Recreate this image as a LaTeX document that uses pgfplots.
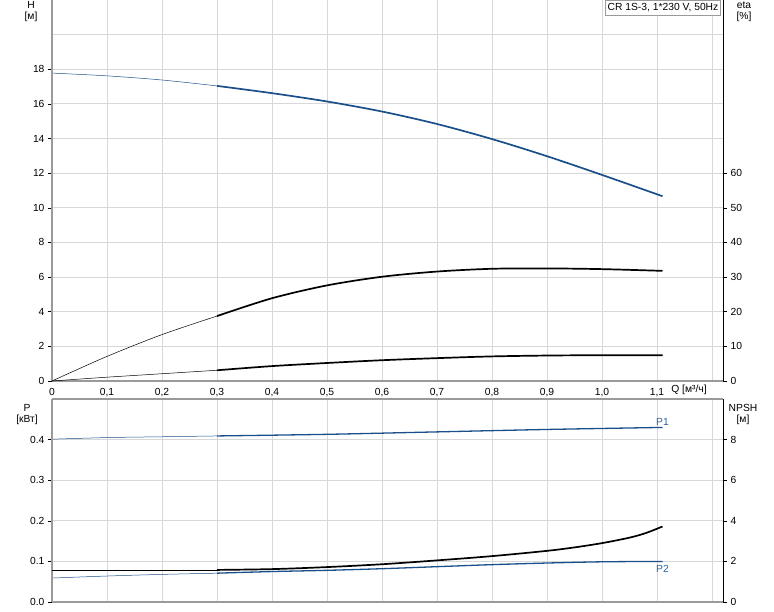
\documentclass[border=0pt]{standalone}
\usepackage{pgfplots}
\pgfplotsset{compat=1.18}
\usepackage{fontspec}
\setmainfont{Liberation Sans}
\definecolor{cblue}{HTML}{1B4F8A}
\definecolor{lblue}{HTML}{2A62A8}
\definecolor{gridc}{HTML}{D8D8D8}
\definecolor{spine}{HTML}{9A9A9A}
\definecolor{thin}{HTML}{555555}
\begin{document}
\begin{tikzpicture}[font=\fontsize{10.3}{12}\selectfont]
\pgfplotsset{
  base/.style={scale only axis, width=671pt, anchor=south west,
    xmin=0, xmax=1.22, clip=false,
    axis line style={draw=none},
    tick style={black, line width=0.6pt}, major tick length=4pt, tick align=outside,
    xtick={0,0.1,0.2,0.3,0.4,0.5,0.6,0.7,0.8,0.9,1.0,1.1},
    grid style={gridc, line width=0.9pt},
    tick label style={font=\fontsize{10.3}{12}\selectfont},
  },
  thinb/.style={cblue, line width=0.5pt, smooth},
  thickb/.style={cblue, line width=1.7pt, smooth},
  think/.style={thin, line width=0.5pt, smooth},
  thickk/.style={black, line width=1.7pt, smooth},
}
% ---------------- top axis -------------
\begin{axis}[base, at={(52pt,230pt)}, height=381pt, ymin=0, ymax=22,
  ytick={0,2,4,6,8,10,12,14,16,18},
  yticklabels={0,2,4,6,8,10,12,14,16,18},
  xticklabels={0,{0,1},{0,2},{0,3},{0,4},{0,5},{0,6},{0,7},{0,8},{0,9},{1,0},{1,1}},
  xtick pos=bottom, ytick pos=left, grid=major,
  extra y ticks={20}, extra y tick labels={}, extra y tick style={major tick length=0pt},
  extra x ticks={1.2}, extra x tick labels={}, extra x tick style={major tick length=0pt},
  x tick style={draw=none}]
\addplot[thinb] coordinates {(0,17.78)(0.1,17.62)(0.2,17.38)(0.3,17.04)};
\addplot[thickb] coordinates {(0.3,17.04)(0.4,16.62)(0.5,16.14)(0.6,15.56)(0.7,14.84)(0.8,13.97)(0.9,12.98)(1.0,11.9)(1.11,10.67)};
\draw[spine, line width=2pt] (rel axis cs:0,0) -- (rel axis cs:0,1);
\draw[spine, line width=2pt] (rel axis cs:0,0) -- (rel axis cs:1,0);
\draw[black, line width=1pt] (rel axis cs:1,0) -- (rel axis cs:1,1);
\end{axis}
\begin{axis}[base, at={(52pt,230pt)}, height=381pt, ymin=0, ymax=110,
  ytick={0,10,20,30,40,50,60}, yticklabels={0,10,20,30,40,50,60},
  ytick pos=right, xtick=\empty, axis x line=none]
\addplot[think] coordinates {(0,0)(0.1,7.1)(0.2,13.4)(0.3,18.75)};
\addplot[thickk] coordinates {(0.3,18.75)(0.4,23.9)(0.5,27.6)(0.6,30.1)(0.7,31.6)(0.8,32.4)(0.9,32.5)(1.0,32.3)(1.11,31.8)};
\addplot[think] coordinates {(0,0)(0.1,1.1)(0.2,2.1)(0.3,3.1)};
\addplot[thickk] coordinates {(0.3,3.1)(0.4,4.3)(0.5,5.2)(0.6,6.0)(0.7,6.6)(0.8,7.1)(0.9,7.35)(1.0,7.45)(1.11,7.45)};
\end{axis}
% ---------------- bottom axis -------------
\begin{axis}[base, at={(52pt,9pt)}, height=203pt, ymin=0, ymax=0.5,
  ytick={0,0.1,0.2,0.3,0.4}, yticklabels={0.0,0.1,0.2,0.3,0.4},
  xticklabels={}, xtick pos=bottom, ytick pos=left, grid=major,
  extra y ticks={0.5}, extra y tick labels={}, extra y tick style={major tick length=0pt},
  extra x ticks={1.2}, extra x tick labels={}, extra x tick style={major tick length=0pt},
  x tick style={draw=none}]
\addplot[thinb] coordinates {(0,0.401)(0.1,0.405)(0.2,0.407)(0.3,0.409)};
\addplot[thickb, line width=1.3pt] coordinates {(0.3,0.409)(0.5,0.413)(0.7,0.419)(0.9,0.425)(1.11,0.430)};
\addplot[thinb] coordinates {(0,0.059)(0.1,0.064)(0.2,0.068)(0.3,0.071)};
\addplot[thickb, line width=1.3pt] coordinates {(0.3,0.071)(0.4,0.075)(0.5,0.078)(0.6,0.082)(0.7,0.087)(0.8,0.092)(0.9,0.096)(1.0,0.099)(1.11,0.100)};
\node[lblue] at (axis cs:1.11,0.444) {P1};
\node[lblue] at (axis cs:1.11,0.0815) {P2};
\draw[spine, line width=2pt] (rel axis cs:0,0) -- (rel axis cs:0,1);
\draw[spine, line width=2pt] (rel axis cs:0,0) -- (rel axis cs:1,0);
\draw[spine, line width=1.5pt] (rel axis cs:0,1) -- (rel axis cs:1,1);
\draw[black, line width=1pt] (rel axis cs:1,0) -- (rel axis cs:1,1);
\end{axis}
\begin{axis}[base, at={(52pt,9pt)}, height=203pt, ymin=0, ymax=10,
  ytick={0,2,4,6,8}, yticklabels={0,2,4,6,8},
  ytick pos=right, xtick=\empty, axis x line=none]
\addplot[think] coordinates {(0,1.58)(0.3,1.58)};
\addplot[thickk] coordinates {(0.3,1.58)(0.4,1.62)(0.5,1.72)(0.6,1.86)(0.7,2.05)(0.8,2.26)(0.9,2.52)(0.95,2.69)(1.0,2.9)(1.05,3.17)(1.08,3.4)(1.11,3.72)};
\end{axis}
% labels
\node at (31pt,606pt) {H};
\node at (31pt,594pt) {[м]};
\node at (744pt,606pt) {eta};
\node at (744pt,594pt) {[\%]};
\node at (27pt,203pt) {P};
\node at (27pt,191pt) {[кВт]};
\node at (743pt,203pt) {NPSH};
\node at (743pt,191pt) {[м]};
\node at (689pt,221pt) {Q [м³/ч]};
\node[draw=spine, fill=white, inner xsep=2pt, inner ysep=2pt, minimum height=15pt] at (663pt,603.5pt) {CR 1S-3, 1*230 V, 50Hz};
\pgfresetboundingbox
\path[use as bounding box] (0pt,0pt) rectangle (774pt,611pt);
\end{tikzpicture}
\end{document}
